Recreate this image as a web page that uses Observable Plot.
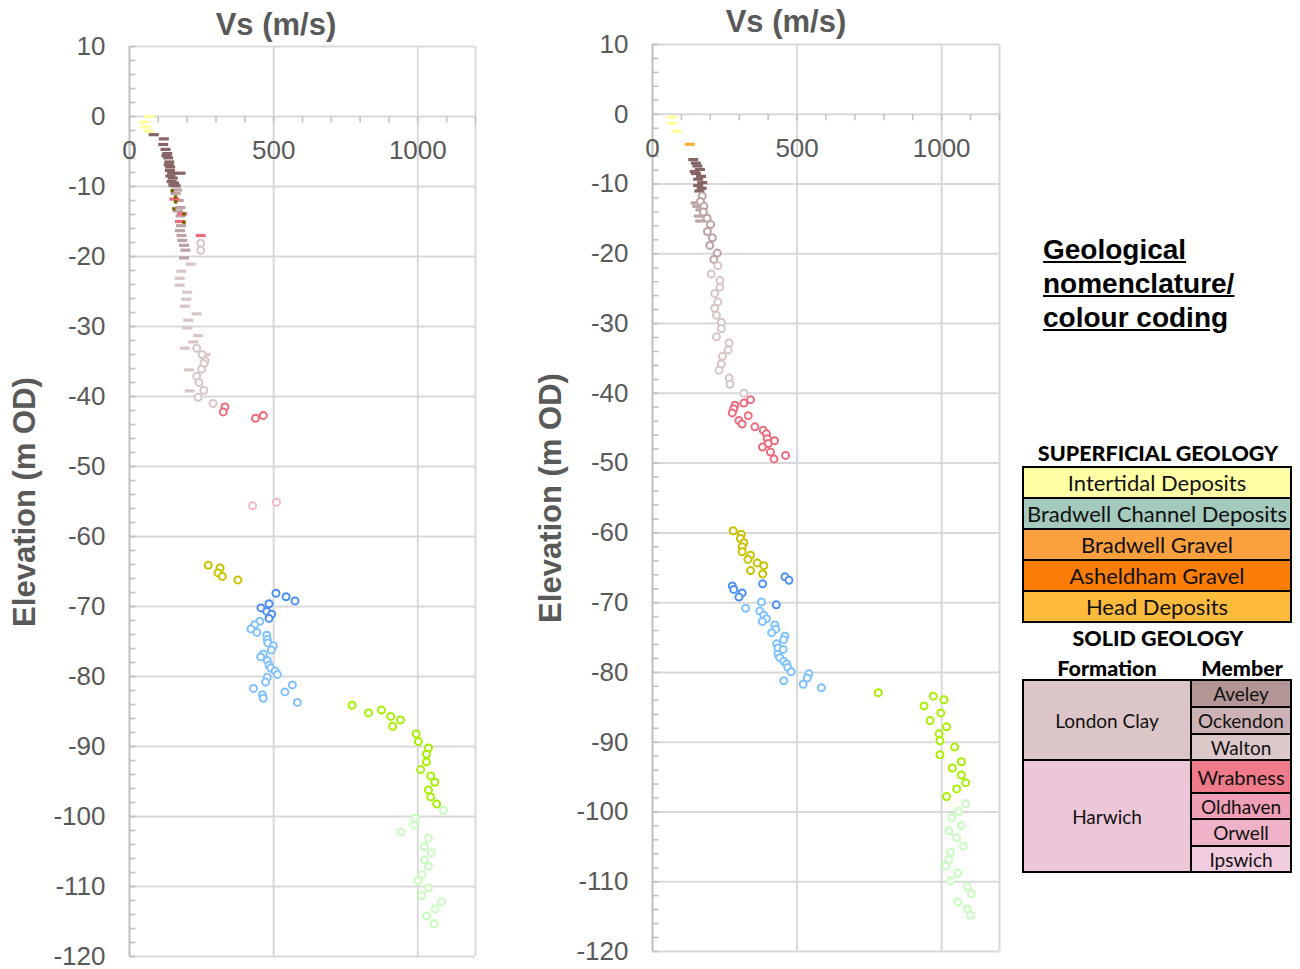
<!DOCTYPE html>
<html>
<head>
<meta charset="utf-8">
<script src="https://cdn.jsdelivr.net/npm/d3@7"></script>
<script src="https://cdn.jsdelivr.net/npm/@observablehq/plot@0.6"></script>
<style>
  html, body { margin: 0; padding: 0; background: #fff; }
  #root { position: relative; width: 1300px; height: 969px; overflow: hidden; font-family: "Liberation Sans", Arial, sans-serif; }
  .title { font-weight: bold; font-size: 31px; color: #595959; white-space: nowrap; transform: translate(-50%, -50%); }
  .ylab { font-weight: bold; font-size: 31px; color: #595959; white-space: nowrap; transform: translate(-50%, -50%) rotate(-90deg); }
  .cell { position: absolute; box-sizing: border-box; border: 2px solid #000; display: flex; align-items: center; justify-content: center; font-family: Lato, "Noto Sans", sans-serif; color: #111; white-space: nowrap; }
  .head { position: absolute; font-family: Lato, "Noto Sans", sans-serif; font-weight: 900; color: #000; white-space: nowrap; transform: translate(-50%, -50%); }
</style>
</head>
<body>
<div id="root"></div>
<script>
// ---------- axis ticks ----------
const yMajorTicks = [10, 0, -10, -20, -30, -40, -50, -60, -70, -80, -90, -100, -110, -120];
const yMinorTicks = d3.range(10, -121, -2);
const xLabelTicks = [0, 500, 1000];
const xGridTicks = [500, 1000, 1200];
const xMinorTicks = d3.range(0, 1201, 100);

// ---------- left profile: [Vs m/s, elevation m OD] ----------
const leftIntertidal = [[70,0],[50,-0.8],[56,-1.5],[66,-2.1]];
const leftAveley = [[84,-2.6],[119,-3.2],[117,-4.0],[125,-4.7],[131,-5.3],[128,-5.6],[134,-5.9],[138,-6.5],[136,-6.9],[141,-7.2],[140,-7.7],[148,-8.1],[177,-8.1],[142,-8.5],[150,-8.8],[146,-9.3],[155,-9.5],[152,-9.8],[160,-9.9]];
const leftOliveDots = [[148,-10.6],[160,-11.5],[160,-12.2],[154,-13.2],[189,-13.9],[189,-15.1]];
const leftWrabnessDash = [[156,-11.8],[183,-13.9],[175,-15.0],[247,-17.0]];
const leftOckendonDash = [[165,-10.5],[160,-11.0],[171,-12.0],[177,-13.0],[168,-13.5],[177,-14.2],[179,-15.6],[175,-16.3],[180,-17.0],[183,-17.7],[189,-18.4],[194,-19.1],[189,-20.2]];
const leftWaltonDash = [[212,-21.1],[180,-22.1],[174,-23.1],[174,-24.1],[200,-25.1],[197,-26.1],[192,-27.1],[233,-28.2],[204,-29.1],[200,-30.2],[238,-31.3],[221,-32.2],[192,-33.1],[264,-34.0],[206,-36.2],[209,-39.2]];
const leftWaltonCircle = [[247,-18.1],[247,-19.1],[233,-33.1],[252,-34.0],[262,-34.9],[258,-35.3],[250,-36.1],[233,-37.1],[241,-38.0],[258,-39.1],[238,-40.1],[290,-41.0]];
const leftWrabness = [[331,-41.5],[325,-42.2],[437,-43.1],[464,-42.7]];
const leftOldhaven = [[427,-55.6],[510,-55.1]];
const leftOlive = [[273,-64.1],[314,-64.5],[307,-65.2],[322,-65.7],[376,-66.2]];
const leftBlue = [[508,-68.1],[543,-68.6],[574,-69.2],[484,-69.6],[456,-70.2],[476,-70.7],[493,-71.1],[484,-71.7]];
const leftLightBlue = [[452,-72.1],[434,-72.6],[421,-73.2],[442,-73.7],[476,-74.1],[478,-74.7],[480,-75.2],[499,-75.6],[492,-76.2],[464,-76.8],[455,-77.2],[478,-77.7],[484,-78.4],[490,-78.8],[505,-79.2],[513,-79.7],[478,-80.1],[472,-80.8],[430,-81.7],[461,-82.6],[464,-83.1],[539,-82.2],[565,-81.2],[582,-83.7]];
const leftGreen = [[772,-84.1],[829,-85.2],[874,-84.8],[906,-85.7],[940,-86.2],[913,-87.1],[994,-88.2],[1002,-89.3],[1037,-90.2],[1030,-91.1],[1030,-92.2],[1010,-93.3],[1045,-94.2],[1059,-95.1],[1037,-96.2],[1045,-97.2],[1065,-98.2]];
const leftLightGreen = [[1089,-99.1],[991,-100.2],[987,-101.2],[941,-102.2],[1037,-103.1],[1022,-104.3],[1047,-105.2],[1022,-106.2],[1037,-107.1],[1014,-108.3],[1001,-109.2],[1037,-110.2],[1014,-111.3],[1082,-112.2],[1060,-113.2],[1030,-114.2],[1057,-115.3]];

// ---------- right profile ----------
const rightIntertidal = [[65,-0.4],[68,-1.3],[83,-2.4]];
const rightHead = [[129,-4.3]];
const rightAveley = [[141,-6.5],[150,-7.0],[155,-7.4],[164,-7.9],[146,-8.2],[150,-8.5],[168,-8.9],[158,-9.3],[172,-9.8],[158,-10.2],[170,-10.6],[162,-11.0]];
const rightOckendonDash = [[149,-12.7],[155,-13.2],[166,-13.7],[160,-14.6],[165,-15.3]];
const rightOckendon = [[172,-11.7],[166,-12.5],[178,-13.2],[176,-14.0],[189,-14.9],[201,-15.8],[190,-16.8],[207,-17.7],[198,-18.8],[224,-19.9],[212,-20.8]];
const rightWalton = [[226,-21.7],[203,-22.9],[233,-23.8],[233,-24.8],[215,-25.7],[226,-26.9],[215,-27.8],[221,-28.8],[238,-29.8],[238,-30.7],[221,-31.9],[265,-32.8],[261,-33.8],[242,-34.7],[238,-35.8],[230,-36.7],[265,-37.8],[268,-38.7],[316,-40.0]];
const rightWrabness = [[339,-40.9],[316,-41.4],[285,-41.7],[281,-42.2],[276,-42.8],[331,-43.2],[299,-43.9],[310,-44.4],[354,-44.8],[383,-45.3],[394,-45.8],[397,-46.5],[422,-46.8],[400,-47.2],[380,-47.7],[408,-48.4],[420,-49.4],[460,-48.9]];
const rightOlive = [[279,-59.7],[307,-60.2],[304,-60.8],[316,-61.4],[310,-62.0],[310,-62.7],[339,-63.2],[330,-63.8],[362,-64.3],[385,-64.7],[339,-65.4],[381,-65.9]];
const rightBlue = [[458,-66.3],[472,-66.8],[381,-67.3],[276,-67.6],[281,-68.1],[310,-68.6],[299,-69.2],[428,-70.3]];
const rightLightBlue = [[377,-69.9],[322,-70.8],[371,-71.2],[385,-71.8],[394,-72.3],[380,-72.7],[423,-73.2],[426,-73.8],[412,-74.3],[458,-74.8],[454,-75.3],[429,-75.9],[434,-76.5],[452,-76.7],[434,-77.4],[440,-77.9],[454,-78.4],[464,-78.8],[468,-79.3],[480,-79.9],[541,-80.2],[535,-80.8],[454,-81.2],[521,-81.7],[584,-82.2]];
const rightGreen = [[781,-82.9],[971,-83.4],[1008,-83.9],[939,-84.8],[997,-85.8],[960,-86.9],[1017,-87.8],[991,-88.8],[994,-89.8],[1045,-90.7],[994,-91.8],[1068,-92.8],[1037,-93.7],[1068,-94.7],[1083,-95.8],[1052,-96.7],[1017,-97.8]];
const rightLightGreen = [[1083,-98.8],[1060,-99.9],[1035,-100.8],[1068,-101.9],[1025,-102.7],[1052,-103.7],[1075,-104.9],[1031,-105.8],[1025,-106.8],[1014,-107.7],[1056,-108.8],[1031,-109.9],[1089,-110.7],[1103,-111.7],[1056,-112.9],[1089,-113.9],[1100,-114.8]];

// ---------- legend ----------
const superficialUnits = ["Intertidal Deposits", "Bradwell Channel Deposits", "Bradwell Gravel", "Asheldham Gravel", "Head Deposits"];
const superficialColors = ["#FFFFA6", "#A4C9BD", "#FBA03F", "#FA7D05", "#FDBA3D"];
const formations = ["London Clay", "Harwich"];
const formationColors = ["#DBC5C6", "#EEC6D9"];
const members = ["Aveley", "Ockendon", "Walton", "Wrabness", "Oldhaven", "Orwell", "Ipswich"];
const memberColors = ["#B49596", "#CCB2B4", "#DDC9CA", "#EF7A8A", "#EFA0B6", "#F0B2C8", "#F2CCDF"];

// ---------- custom symbols ----------
const dashSym = { draw(ctx) { ctx.moveTo(-5, -1.6); ctx.lineTo(5, -1.6); ctx.lineTo(5, 1.6); ctx.lineTo(-5, 1.6); ctx.closePath(); } };
const sqSym = { draw(ctx) { ctx.moveTo(-1.7, -1.7); ctx.lineTo(1.7, -1.7); ctx.lineTo(1.7, 1.7); ctx.lineTo(-1.7, 1.7); ctx.closePath(); } };
const tickRight = { draw(ctx) { ctx.moveTo(0, 0); ctx.lineTo(6, 0); } };
const tickDown = { draw(ctx) { ctx.moveTo(0, 0); ctx.lineTo(0, 6); } };

const C = {
  intertidal: "#FFFF99", head: "#FFAE2E", aveley: "#876565", ockendon: "#BDA3A5", walton: "#D8C6C7",
  oliveDot: "#7D6200", wrabness: "#EE6A7D", oldhaven: "#F2B8C4", olive: "#C9C200",
  blue: "#4C90F5", lightBlue: "#80C2FF", green: "#A6F000", lightGreen: "#C6FDBC"
};

function dashes(data, color) {
  return Plot.dot(data, {x: d => d[0], y: d => d[1], symbol: dashSym, fill: color, stroke: "none"});
}
function circles(data, color) {
  return Plot.dot(data, {x: d => d[0], y: d => d[1], r: 3.5, fill: "white", stroke: color, strokeWidth: 2});
}
function squares(data, color) {
  return Plot.dot(data, {x: d => d[0], y: d => d[1], symbol: sqSym, fill: color, stroke: "none"});
}

function makePlot(o, dataMarks) {
  return Plot.plot({
    width: o.width, height: 969,
    marginLeft: o.ml, marginRight: o.mr, marginTop: o.mt, marginBottom: o.mb,
    x: {domain: [0, 1200], axis: null},
    y: {domain: [-120, 10], axis: null},
    style: {background: "transparent", overflow: "visible", fontFamily: "'Liberation Sans', Arial, sans-serif"},
    marks: [
      Plot.ruleY(yMajorTicks, {y: d => d, stroke: "#D9D9D9", strokeWidth: 2}),
      Plot.ruleX(xGridTicks, {x: d => d, stroke: "#D9D9D9", strokeWidth: 2}),
      Plot.ruleX([0], {x: d => d, stroke: "#BFBFBF", strokeWidth: 2}),
      Plot.dot(yMinorTicks, {x: 0, y: d => d, symbol: tickRight, stroke: "#BFBFBF", fill: "none", strokeWidth: 1.5}),
      Plot.dot(xMinorTicks, {x: d => d, y: 0, symbol: tickDown, stroke: "#BFBFBF", fill: "none", strokeWidth: 1.5}),
      Plot.text(yMajorTicks, {x: 0, y: d => d, text: d => String(d), textAnchor: "end", dx: -24, fontSize: 26, fill: "#595959"}),
      Plot.text(xLabelTicks, {x: d => d, y: 0, dy: 34, text: d => String(d), textAnchor: "middle", fontSize: 26, fill: "#595959"}),
      ...dataMarks
    ]
  });
}

const root = document.getElementById("root");
function place(el, x, y) { el.style.position = "absolute"; el.style.left = x + "px"; el.style.top = y + "px"; root.appendChild(el); return el; }

const leftPlot = makePlot({width: 500, ml: 129, mr: 25, mt: 46, mb: 13}, [
  dashes(leftIntertidal, C.intertidal),
  dashes(leftWaltonDash, C.walton),
  dashes(leftOckendonDash, C.ockendon),
  dashes(leftAveley, C.aveley),
  dashes(leftWrabnessDash, C.wrabness),
  squares(leftOliveDots, C.oliveDot),
  circles(leftWaltonCircle, C.walton),
  circles(leftWrabness, C.wrabness),
  circles(leftOldhaven, C.oldhaven),
  circles(leftOlive, C.olive),
  circles(leftLightBlue, C.lightBlue),
  circles(leftBlue, C.blue),
  circles(leftLightGreen, C.lightGreen),
  circles(leftGreen, C.green)
]);
place(leftPlot, 0, 0);

const rightPlot = makePlot({width: 500, ml: 132, mr: 21, mt: 44, mb: 18}, [
  dashes(rightIntertidal, C.intertidal),
  dashes(rightHead, C.head),
  dashes(rightOckendonDash, C.ockendon),
  dashes(rightAveley, C.aveley),
  circles(rightOckendon, C.ockendon),
  circles(rightWalton, C.walton),
  circles(rightWrabness, C.wrabness),
  circles(rightOlive, C.olive),
  circles(rightLightBlue, C.lightBlue),
  circles(rightBlue, C.blue),
  circles(rightLightGreen, C.lightGreen),
  circles(rightGreen, C.green)
]);
place(rightPlot, 520, 0);

// titles
function textDiv(cls, txt, x, y) { const d = document.createElement("div"); d.className = cls; d.textContent = txt; return place(d, x, y); }
textDiv("title", "Vs (m/s)", 276, 25);
textDiv("title", "Vs (m/s)", 786, 22);
textDiv("ylab", "Elevation (m OD)", 25, 502);
textDiv("ylab", "Elevation (m OD)", 551, 498);

// legend title
const lt = document.createElement("div");
lt.innerHTML = "Geological<br>nomenclature/<br>colour coding";
Object.assign(lt.style, {fontFamily: "'Liberation Sans', Arial, sans-serif", fontWeight: "bold", fontSize: "28px", lineHeight: "34px", textDecoration: "underline", color: "#000", whiteSpace: "nowrap"});
place(lt, 1043, 233);

// legend table
function cell(txt, x, y, w, h, bg, fs) {
  const d = document.createElement("div");
  d.className = "cell"; d.textContent = txt;
  Object.assign(d.style, {width: w + "px", height: h + "px", background: bg, fontSize: fs + "px"});
  return place(d, x, y);
}
function head(txt, x, y, fs) { const d = document.createElement("div"); d.className = "head"; d.textContent = txt; d.style.fontSize = fs + "px"; return place(d, x, y); }

head("SUPERFICIAL GEOLOGY", 1158, 453, 21.5);
const supTops = [466, 497, 528, 559, 590];
superficialUnits.forEach((u, i) => cell(u, 1022, supTops[i], 270, 33, superficialColors[i], 22));
head("SOLID GEOLOGY", 1158, 638, 21.5);
head("Formation", 1107, 668, 21.5);
head("Member", 1242, 668, 21.5);
const formTops = [679, 759], formHeights = [82, 114];
formations.forEach((f, i) => cell(f, 1022, formTops[i], 170, formHeights[i], formationColors[i], 19));
const memTops = [679, 706, 733, 759, 792, 818, 845], memHeights = [29, 29, 28, 35, 28, 29, 28];
members.forEach((m, i) => cell(m, 1190, memTops[i], 102, memHeights[i], memberColors[i], i === 3 ? 20 : 19));
</script>
</body>
</html>
